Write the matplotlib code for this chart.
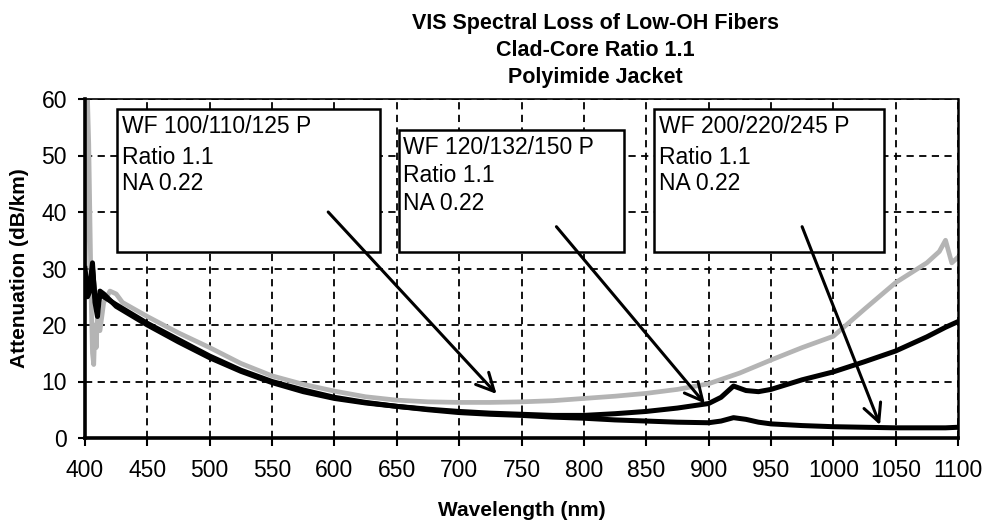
import matplotlib
matplotlib.use("Agg")
import matplotlib.pyplot as plt
from matplotlib.patches import Rectangle

plt.rcParams['font.family'] = ['Liberation Sans', 'DejaVu Sans']

# wavelengths (nm) and attenuation (dB/km)
wl = [400, 402, 404, 406, 408, 410, 412, 415, 425, 450, 475, 500, 525, 550, 575,
      600, 625, 650, 675, 700, 725, 750, 775, 800, 825, 850, 875, 900, 910, 920,
      930, 940, 950, 975, 1000, 1025, 1050, 1075, 1090, 1100]
wf200 = [30, 26, 27, 31, 24, 21.5, 26, 25.5, 23.3, 20.0, 17.0, 14.2, 11.8, 9.8, 8.2,
         7.0, 6.2, 5.6, 5.0, 4.5, 4.2, 4.0, 3.7, 3.5, 3.2, 3.0, 2.8, 2.7, 3.0, 3.6,
         3.3, 2.8, 2.5, 2.2, 2.0, 1.9, 1.8, 1.8, 1.8, 1.9]
wf120 = [29, 25, 26, 30, 25, 23, 25.5, 25, 23.6, 20.3, 17.4, 14.5, 12.0, 10.0, 8.5,
         7.2, 6.3, 5.6, 5.1, 4.7, 4.4, 4.2, 4.0, 4.0, 4.3, 4.7, 5.3, 6.1, 7.2, 9.2,
         8.4, 8.2, 8.6, 10.3, 11.7, 13.5, 15.4, 17.9, 19.6, 20.6]

wl_gray = [400, 401, 402, 403, 404, 405, 406, 407, 408, 409, 410, 412, 415, 420, 425,
           430, 450, 475, 500, 525, 550, 575, 600, 625, 650, 675, 700, 725, 750, 775,
           800, 825, 850, 875, 900, 925, 950, 975, 1000, 1025, 1050, 1075, 1085, 1090,
           1095, 1100]
wf100 = [27, 45, 60, 52, 38, 24, 15, 13, 20, 16, 22, 19, 24, 26, 25.5,
         24, 21.5, 18.6, 16.0, 13.2, 11.0, 9.5, 8.3, 7.3, 6.7, 6.4, 6.3, 6.3, 6.4, 6.6,
         7.0, 7.4, 7.9, 8.6, 9.6, 11.5, 13.8, 16.0, 18.0, 22.8, 27.5, 31.0, 33.0, 35.0,
         31.0, 32.0]

box_texts = [["WF 100/110/125 P", "Ratio 1.1", "NA 0.22"],
             ["WF 120/132/150 P", "Ratio 1.1", "NA 0.22"],
             ["WF 200/220/245 P", "Ratio 1.1", "NA 0.22"]]

title_lines = ["VIS Spectral Loss of Low-OH Fibers", "Clad-Core Ratio 1.1", "Polyimide Jacket"]

# layout: box extents (x0, x1, y0, y1), text line y's, arrow start/tip
boxes = [(426, 636.5, 32.9, 58.2), (652, 832, 32.9, 54.5), (856, 1041, 33.0, 58.2)]
text_x = [430, 655, 860]
text_y = [[55.2, 49.6, 45.0], [51.5, 46.4, 41.5], [55.2, 49.6, 45.0]]
arrows = [((595, 40.0), (730, 7.8)), ((778, 37.4), (897, 6.1)), ((975, 37.4), (1037.5, 2.3))]

fig = plt.figure(figsize=(9.82, 5.2), dpi=100)
ax = fig.add_axes([85 / 982, 1 - 438 / 520, 873 / 982, 339 / 520])

ax.plot(wl_gray, wf100, color='#b4b4b4', lw=3.4, zorder=2)
ax.plot(wl, wf120, color='black', lw=3.6, zorder=3)
ax.plot(wl, wf200, color='black', lw=3.6, zorder=3)

ax.set_xlim(400, 1100)
ax.set_ylim(0, 60)
ax.set_xticks(range(400, 1101, 50))
ax.set_yticks(range(0, 61, 10))
ax.grid(True, color='black', linestyle=(0, (4, 3)), lw=1.3, zorder=1)
ax.set_axisbelow(True)
ax.tick_params(axis='x', direction='out', length=6, width=1.5, pad=9, labelsize=16.5)
ax.tick_params(axis='y', direction='out', length=5, width=1.5, pad=8, labelsize=16.5)
for side, w in [('left', 2.6), ('bottom', 2.6), ('top', 1.2), ('right', 1.8)]:
    ax.spines[side].set_linewidth(w)

for (x0, x1, y0, y1), lines, tx, tys in zip(boxes, box_texts, text_x, text_y):
    ax.add_patch(Rectangle((x0, y0), x1 - x0, y1 - y0, facecolor='white',
                           edgecolor='black', lw=1.8, zorder=4))
    for s, ty in zip(lines, tys):
        ax.text(tx, ty, s, fontsize=16.5, ha='left', va='center', zorder=5)

for start, tip in arrows:
    ax.annotate('', xy=tip, xytext=start, zorder=6,
                arrowprops=dict(arrowstyle='->', lw=2.2, color='black',
                                mutation_scale=32, shrinkA=0, shrinkB=0))

ax.set_xlabel("Wavelength (nm)", fontsize=15, fontweight='bold', labelpad=14)
ax.set_ylabel("Attenuation (dB/km)", fontsize=15, fontweight='bold', labelpad=9)

for s, fy in zip(title_lines, [0.954, 0.902, 0.850]):
    fig.text(0.606, fy, s, fontsize=15.5, fontweight='bold', ha='center', va='center')

fig.savefig("out.png", dpi=100)
